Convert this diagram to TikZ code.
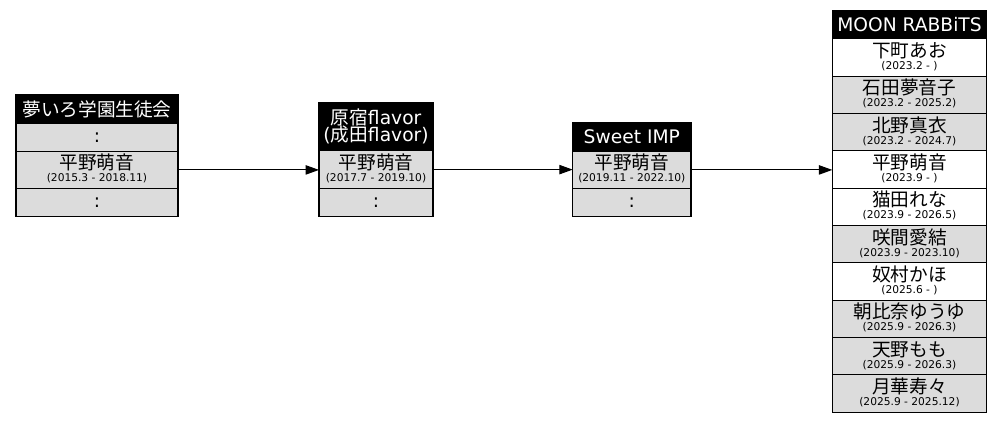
\documentclass[tikz,border=0pt]{standalone}
\usepackage{fontspec}
\setmainfont{DejaVu Sans}
\newfontfamily\jp{Noto Sans CJK JP}
\usepackage{xcolor}
\usetikzlibrary{arrows.meta, positioning}
\definecolor{rowgrey}{HTML}{DCDCDC}
% two centred lines: top, bottom, distance of baselines, height above the top baseline
\newcommand{\stack}[4]{\vbox{\offinterlineskip\halign{\hfil##\hfil\cr\rule{0pt}{#4}\smash{#1}\cr\noalign{\vskip#3}\smash{#2}\cr}}}
\newcommand{\member}[2]{\stack{{\jp\fontsize{14}{14}\selectfont #1}}{#2}{8.9pt}{8.9pt}}

\begin{document}
\begin{tikzpicture}[x=0.75pt, y=-0.75pt,
  cell/.style={draw, line width=0.8pt, inner sep=0pt, outer sep=0pt, anchor=north west},
  head/.style={cell, fill=black, text=white, font=\fontsize{14}{14}\selectfont, minimum height=21.2pt},
  shaded/.style={cell, fill=rowgrey},
  plain/.style={cell, fill=white},
  namerow/.style={minimum height=28pt, font=\fontsize{8}{9}\selectfont},
  dotrow/.style={minimum height=21pt, font=\fontsize{14}{14}\selectfont},
  link/.style={line width=0.8pt, -{Triangle[length=10pt,width=7pt]}}]
\useasboundingbox (0,0) rectangle (1001,423);
% first group
\node[head, minimum width=121.5pt] (yume) at (16,95) {{\jp 夢いろ学園生徒会}};
\node[shaded, dotrow, minimum width=121.5pt] (yume1) at (yume.south west) {:};
\node[shaded, namerow, minimum width=121.5pt] (yume2) at (yume1.south west) {\member{平野萌音}{(2015.3 - 2018.11)}};
\node[shaded, dotrow, minimum width=121.5pt] (yume3) at (yume2.south west) {:};
% second group
\node[head, minimum width=85.5pt, minimum height=36.2pt] (harajuku) at (319,102.7) {\stack{{\jp 原宿}flavor}{({\jp 成田}flavor)}{13pt}{9.2pt}};
\node[shaded, namerow, minimum width=85.5pt] (harajuku1) at (harajuku.south west) {\member{平野萌音}{(2017.7 - 2019.10)}};
\node[shaded, dotrow, minimum width=85.5pt] (harajuku2) at (harajuku1.south west) {:};
% third group
\node[head, minimum width=88.7pt] (sweet) at (572.7,123) {Sweet IMP};
\node[shaded, namerow, minimum width=88.7pt] (sweet1) at (sweet.south west) {\member{平野萌音}{(2019.11 - 2022.10)}};
\node[shaded, dotrow, minimum width=88.7pt] (sweet2) at (sweet1.south west) {:};
% fourth group
\node[head, minimum width=115.8pt] (rabbits) at (832.3,10.7) {MOON RABBiTS};
\node[plain, namerow, minimum width=115.8pt] (rabbits1) at (rabbits.south west) {\member{下町あお}{(2023.2 - )}};
\node[shaded, namerow, minimum width=115.8pt] (rabbits2) at (rabbits1.south west) {\member{石田夢音子}{(2023.2 - 2025.2)}};
\node[shaded, namerow, minimum width=115.8pt] (rabbits3) at (rabbits2.south west) {\member{北野真衣}{(2023.2 - 2024.7)}};
\node[plain, namerow, minimum width=115.8pt] (rabbits4) at (rabbits3.south west) {\member{平野萌音}{(2023.9 - )}};
\node[plain, namerow, minimum width=115.8pt] (rabbits5) at (rabbits4.south west) {\member{猫田れな}{(2023.9 - 2026.5)}};
\node[shaded, namerow, minimum width=115.8pt] (rabbits6) at (rabbits5.south west) {\member{咲間愛結}{(2023.9 - 2023.10)}};
\node[plain, namerow, minimum width=115.8pt] (rabbits7) at (rabbits6.south west) {\member{奴村かほ}{(2025.6 - )}};
\node[shaded, namerow, minimum width=115.8pt] (rabbits8) at (rabbits7.south west) {\member{朝比奈ゆうゆ}{(2025.9 - 2026.3)}};
\node[shaded, namerow, minimum width=115.8pt] (rabbits9) at (rabbits8.south west) {\member{天野もも}{(2025.9 - 2026.3)}};
\node[shaded, namerow, minimum width=115.8pt] (rabbits10) at (rabbits9.south west) {\member{月華寿々}{(2025.9 - 2025.12)}};
% transfers
\draw[link] (yume2.east) -- (yume2.east -| harajuku1.west);
\draw[link] (harajuku1.east) -- (harajuku1.east -| sweet1.west);
\draw[link] (sweet1.east) -- (sweet1.east -| rabbits4.west);
\end{tikzpicture}
\end{document}
